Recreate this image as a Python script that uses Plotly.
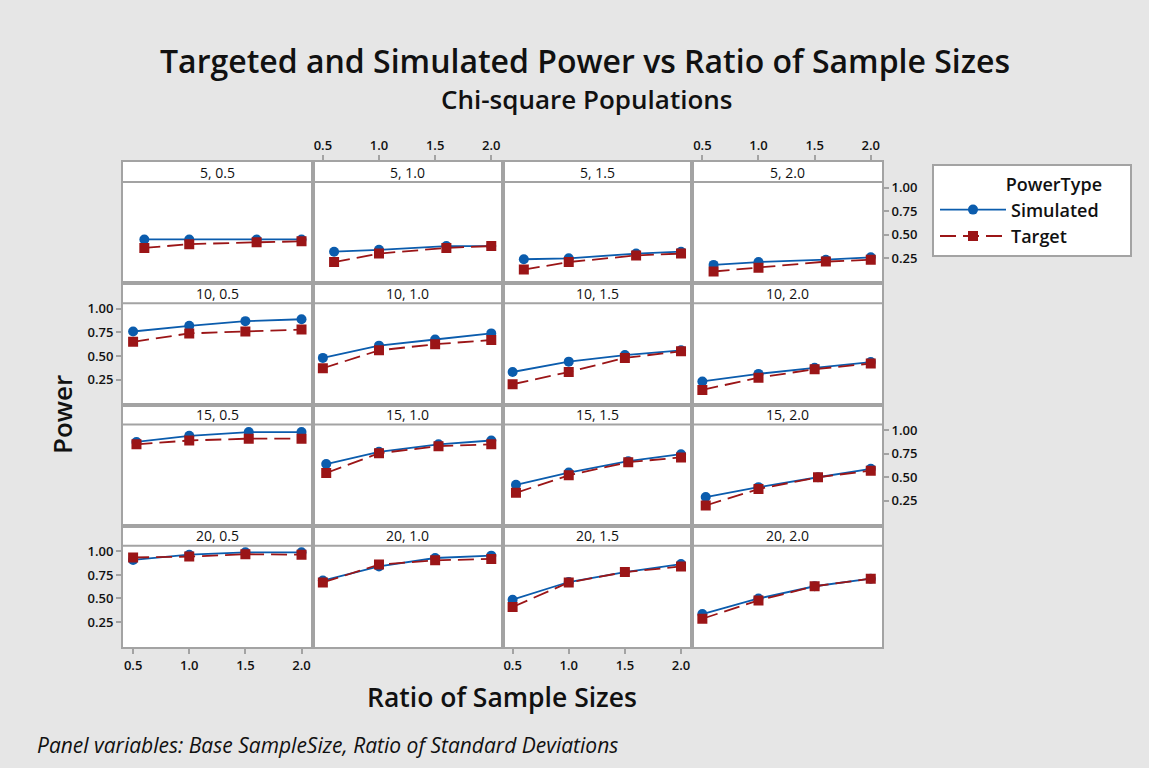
import plotly.graph_objects as go

# ---------------- data ----------------
base_sizes = [5, 10, 15, 20]
sd_ratios = ["0.5", "1.0", "1.5", "2.0"]
tick_vals_x = [0.5, 1.0, 1.5, 2.0]
tick_text_x = ["0.5", "1.0", "1.5", "2.0"]
tick_vals_y = [0.25, 0.5, 0.75, 1.0]
tick_text_y = ["0.25", "0.50", "0.75", "1.00"]

# ratio of sample sizes actually used for each base sample size
ratio_n5 = [0.6, 1.0, 1.6, 2.0]
ratio_n10 = [0.5, 1.0, 1.5, 2.0]
ratio_n15 = [0.53, 1.0, 1.53, 2.0]
ratio_n20 = [0.5, 1.0, 1.5, 2.0]

# simulated power, one list per ratio of standard deviations (0.5, 1.0, 1.5, 2.0)
sim_n5 = [[0.45, 0.45, 0.45, 0.45], [0.32, 0.34, 0.38, 0.38],
          [0.24, 0.25, 0.30, 0.32], [0.18, 0.21, 0.235, 0.26]]
sim_n10 = [[0.76, 0.82, 0.87, 0.89], [0.48, 0.61, 0.675, 0.74],
           [0.33, 0.44, 0.51, 0.56], [0.23, 0.31, 0.375, 0.435]]
sim_n15 = [[0.875, 0.94, 0.98, 0.98], [0.64, 0.77, 0.85, 0.89],
           [0.42, 0.55, 0.67, 0.745], [0.29, 0.395, 0.50, 0.59]]
sim_n20 = [[0.91, 0.965, 0.99, 0.99], [0.69, 0.84, 0.93, 0.955],
           [0.487, 0.675, 0.78, 0.865], [0.335, 0.50, 0.63, 0.71]]

# target power
tgt_n5 = [[0.36, 0.40, 0.42, 0.43], [0.21, 0.30, 0.36, 0.38],
          [0.13, 0.21, 0.28, 0.30], [0.11, 0.15, 0.215, 0.235]]
tgt_n10 = [[0.65, 0.74, 0.76, 0.78], [0.37, 0.56, 0.625, 0.67],
           [0.20, 0.33, 0.48, 0.55], [0.14, 0.27, 0.36, 0.42]]
tgt_n15 = [[0.85, 0.89, 0.91, 0.91], [0.545, 0.755, 0.83, 0.85],
           [0.335, 0.52, 0.66, 0.71], [0.20, 0.375, 0.50, 0.57]]
tgt_n20 = [[0.935, 0.945, 0.97, 0.965], [0.67, 0.86, 0.905, 0.92],
           [0.41, 0.67, 0.78, 0.84], [0.285, 0.48, 0.63, 0.71]]

ratios = [ratio_n5, ratio_n10, ratio_n15, ratio_n20]
sims = [sim_n5, sim_n10, sim_n15, sim_n20]
tgts = [tgt_n5, tgt_n10, tgt_n15, tgt_n20]

# ---------------- styling / layout ----------------
W, H = 1149, 768
FONT = "Open Sans"
BLUE = "#0b5cad"
RED = "#9b1517"
GRID = "#a3a3a3"
BG = "#e6e6e6"
INK = "#111111"

grid_left, col_w = 123.0, 189.75
grid_top, row_h = 162.0, 121.25
strip_h = 20.0
y_lo, y_hi_plot = -0.015, 1.06
px_per_unit = (row_h - strip_h) / (y_hi_plot - y_lo)
y_hi = y_hi_plot + strip_h / px_per_unit
x_range = [0.41, 2.10]

fig = go.Figure()
layout = dict(
    width=W, height=H,
    margin=dict(l=0, r=0, t=0, b=0),
    paper_bgcolor=BG, plot_bgcolor="white",
    font=dict(family=FONT, color=INK),
    showlegend=True,
)
shapes = []
annotations = []
tickfont = dict(size=13, family=FONT, color=INK, weight=600)

for i, n in enumerate(base_sizes):
    for j, sd in enumerate(sd_ratios):
        k = i * 4 + j + 1
        xa = "x" if k == 1 else f"x{k}"
        ya = "y" if k == 1 else f"y{k}"
        xkey = "xaxis" if k == 1 else f"xaxis{k}"
        ykey = "yaxis" if k == 1 else f"yaxis{k}"
        x0 = grid_left + j * col_w
        x1 = x0 + col_w
        top = grid_top + i * row_h
        bot = top + row_h

        # x axis ticks: top of row 1 cols 2,4; bottom of row 4 cols 1,3
        xt = dict(showticklabels=False, ticks="")
        if i == 0 and j in (1, 3):
            xt = dict(side="top", showticklabels=True, ticks="outside")
        if i == 3 and j in (0, 2):
            xt = dict(side="bottom", showticklabels=True, ticks="outside")
        layout[xkey] = dict(
            domain=[x0 / W, x1 / W], anchor=ya, range=x_range,
            tickvals=tick_vals_x, ticktext=tick_text_x,
            ticklen=5, tickwidth=1.5, tickcolor=GRID, tickfont=tickfont,
            showline=True, mirror=True, linecolor=GRID, linewidth=2,
            showgrid=False, zeroline=False, fixedrange=True, **xt)

        yt = dict(showticklabels=False, ticks="")
        if j == 3 and i in (0, 2):
            yt = dict(side="right", showticklabels=True, ticks="outside")
        if j == 0 and i in (1, 3):
            yt = dict(side="left", showticklabels=True, ticks="outside")
        layout[ykey] = dict(
            domain=[(H - bot) / H, (H - top) / H], anchor=xa,
            range=[y_lo, y_hi],
            tickvals=tick_vals_y, ticktext=tick_text_y,
            ticklen=5, tickwidth=1.5, tickcolor=GRID, tickfont=tickfont,
            showline=True, mirror=True, linecolor=GRID, linewidth=2,
            showgrid=False, zeroline=False, fixedrange=True, **yt)

        fig.add_trace(go.Scatter(
            x=ratios[i], y=sims[i][j], xaxis=xa, yaxis=ya,
            mode="lines+markers", name="Simulated", legendgroup="sim",
            showlegend=(k == 1),
            line=dict(color=BLUE, width=1.8),
            marker=dict(symbol="circle", size=10, color=BLUE)))
        fig.add_trace(go.Scatter(
            x=ratios[i], y=tgts[i][j], xaxis=xa, yaxis=ya,
            mode="lines+markers", name="Target", legendgroup="tgt",
            showlegend=(k == 1),
            line=dict(color=RED, width=1.8, dash="16px,7px"),
            marker=dict(symbol="square", size=10, color=RED)))

        # strip separator line
        sy = (H - (top + strip_h)) / H
        shapes.append(dict(type="line", xref="paper", yref="paper",
                           x0=x0 / W, x1=x1 / W, y0=sy, y1=sy,
                           line=dict(color=GRID, width=2)))
        annotations.append(dict(
            text=f"{n}, {sd}", xref="paper", yref="paper",
            x=(x0 + x1) / 2 / W, y=(H - (top + strip_h / 2)) / H,
            showarrow=False, font=dict(size=14, family=FONT, color=INK),
            xanchor="center", yanchor="middle"))

# legend frame (legend itself drawn transparent on top)
shapes.append(dict(type="rect", xref="paper", yref="paper", layer="below",
                   x0=933 / W, x1=1131 / W, y0=(H - 256) / H, y1=(H - 165) / H,
                   fillcolor="white", line=dict(color=GRID, width=2)))

# titles
annotations += [
    dict(text="Targeted and Simulated Power vs Ratio of Sample Sizes",
         xref="paper", yref="paper", x=585 / W, y=(H - 60) / H,
         showarrow=False, xanchor="center", yanchor="middle",
         font=dict(size=32, family=FONT, color=INK, weight=600)),
    dict(text="Chi-square Populations",
         xref="paper", yref="paper", x=586 / W, y=(H - 99) / H,
         showarrow=False, xanchor="center", yanchor="middle",
         font=dict(size=26, family=FONT, color=INK, weight=600)),
    dict(text="Ratio of Sample Sizes",
         xref="paper", yref="paper", x=502 / W, y=(H - 697) / H,
         showarrow=False, xanchor="center", yanchor="middle",
         font=dict(size=26.5, family=FONT, color=INK, weight=600)),
    dict(text="Power", textangle=-90,
         xref="paper", yref="paper", x=62 / W, y=(H - 415) / H,
         showarrow=False, xanchor="center", yanchor="middle",
         font=dict(size=26, family=FONT, color=INK, weight=600)),
    dict(text="<i>Panel variables: Base SampleSize, Ratio of Standard Deviations</i>",
         xref="paper", yref="paper", x=35 / W, y=(H - 745) / H,
         showarrow=False, xanchor="left", yanchor="middle",
         font=dict(size=21, family=FONT, color=INK)),
]

layout["shapes"] = shapes
layout["annotations"] = annotations
layout["legend"] = dict(
    x=935 / W, y=(H - 168) / H, xanchor="left", yanchor="top",
    bgcolor="rgba(0,0,0,0)", borderwidth=0,
    title=dict(text="PowerType", side="top right",
               font=dict(size=18, family=FONT, color=INK, weight=600)),
    font=dict(size=18, family=FONT, color=INK, weight=600),
    itemwidth=66, tracegroupgap=0,
)
fig.update_layout(**layout)
fig.write_html("out.html")
